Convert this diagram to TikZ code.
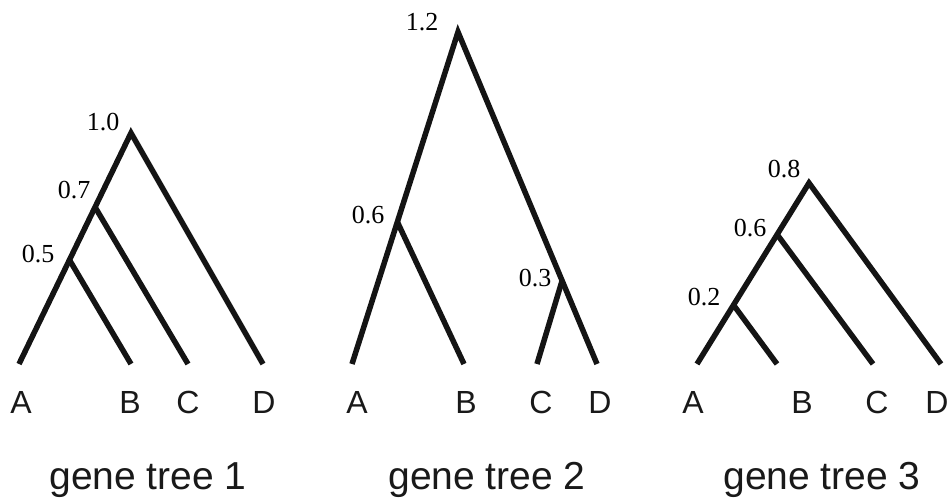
\documentclass[tikz,border=0pt]{standalone}
\usepackage{fontspec}
\setmainfont{Liberation Serif}
\newfontfamily\arialf{Liberation Sans}
\begin{document}
\begin{tikzpicture}[x=1pt,y=-1pt,
  branch/.style={line width=5.5pt,line join=miter,line cap=butt,color=black!92},
  num/.style={font=\fontsize{26}{27}\selectfont,anchor=base,inner sep=0pt},
  leaf/.style={font=\arialf\fontsize{32}{34}\selectfont,anchor=base,inner sep=0pt,text=black!90},
  captext/.style={font=\arialf\fontsize{39}{42}\selectfont,anchor=base,inner sep=0pt,text=black!90}]
\useasboundingbox[fill=white] (0,0) rectangle (950,498);
% ---------- tree 1
\coordinate (t1A) at (19,364);
\coordinate (t1B) at (131,364);
\coordinate (t1C) at (188,364);
\coordinate (t1D) at (263,364);
\coordinate (t1r) at (131,133);
\coordinate (t1p) at (95,207);
\coordinate (t1q) at (69.5,260);
\draw[branch] (t1A) -- (t1r) -- (t1D);
\draw[branch] (t1p) -- (t1C);
\draw[branch] (t1q) -- (t1B);
\node[num] (l1r) at (103,130) {1.0};
\node[num] (l1p) at (74,198) {0.7};
\node[num] (l1q) at (38,262) {0.5};
\node[leaf] (n1A) at (21,413) {A};
\node[leaf] (n1B) at (130,413) {B};
\node[leaf] (n1C) at (188,413) {C};
\node[leaf] (n1D) at (264,413) {D};
\node[captext] (c1) at (148,489) {gene tree 1};
% ---------- tree 2
\coordinate (t2A) at (352,364);
\coordinate (t2B) at (464,364);
\coordinate (t2C) at (537,364);
\coordinate (t2D) at (597,364);
\coordinate (t2r) at (458,32);
\coordinate (t2p) at (397.4,222);
\coordinate (t2q) at (562,281);
\draw[branch] (t2A) -- (t2r) -- (t2D);
\draw[branch] (t2p) -- (t2B);
\draw[branch] (t2q) -- (t2C);
\node[num] (l2r) at (422,30) {1.2};
\node[num] (l2p) at (368,223) {0.6};
\node[num] (l2q) at (535,286) {0.3};
\node[leaf] (n2A) at (357,413) {A};
\node[leaf] (n2B) at (466,413) {B};
\node[leaf] (n2C) at (541,413) {C};
\node[leaf] (n2D) at (600,413) {D};
\node[captext] (c2) at (487,489) {gene tree 2};
% ---------- tree 3
\coordinate (t3A) at (697,364);
\coordinate (t3B) at (777,364);
\coordinate (t3C) at (873,364);
\coordinate (t3D) at (941,364);
\coordinate (t3r) at (809,183);
\coordinate (t3p) at (777.5,235);
\coordinate (t3q) at (733.5,305);
\draw[branch] (t3A) -- (t3r) -- (t3D);
\draw[branch] (t3p) -- (t3C);
\draw[branch] (t3q) -- (t3B);
\node[num] (l3r) at (784,177) {0.8};
\node[num] (l3p) at (750,236) {0.6};
\node[num] (l3q) at (704,305) {0.2};
\node[leaf] (n3A) at (693,413) {A};
\node[leaf] (n3B) at (802,413) {B};
\node[leaf] (n3C) at (877,413) {C};
\node[leaf] (n3D) at (937,413) {D};
\node[captext] (c3) at (822,489) {gene tree 3};
\end{tikzpicture}
\end{document}
